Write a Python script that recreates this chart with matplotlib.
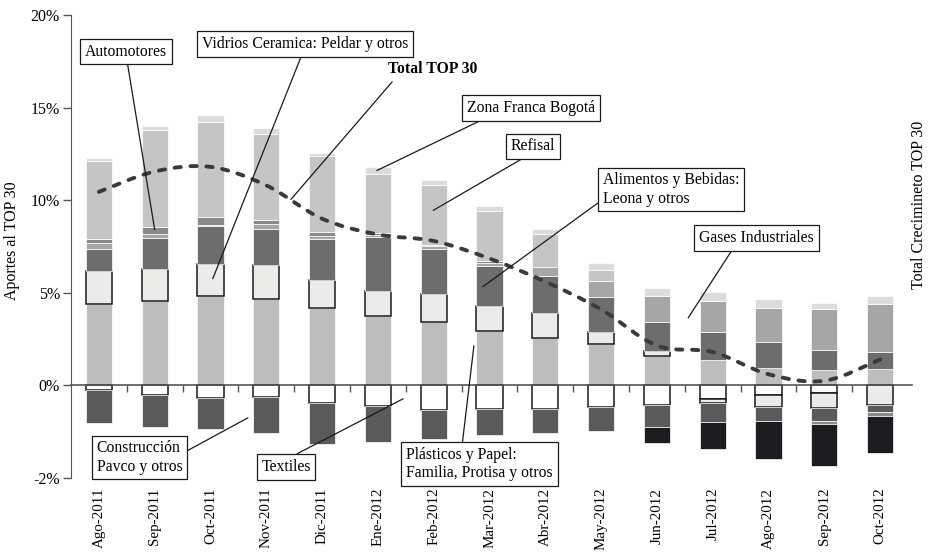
import numpy as np
import matplotlib
matplotlib.use("Agg")  # headless
import matplotlib.pyplot as plt
from matplotlib.path import Path
from matplotlib.patches import PathPatch

plt.rcParams["font.family"] = ["Liberation Serif", "DejaVu Serif"]

meses = ["Ago-2011", "Sep-2011", "Oct-2011", "Nov-2011", "Dic-2011", "Ene-2012",
         "Feb-2012", "Mar-2012", "Abr-2012", "May-2012", "Jun-2012", "Jul-2012",
         "Ago-2012", "Sep-2012", "Oct-2012"]

# aportes positivos (pp), de abajo hacia arriba
plasticos = [4.40, 4.57, 4.84, 4.66, 4.18, 3.76, 3.44, 2.95, 2.55, 2.23, 1.58, 1.38, 0.96, 0.84, 0.88]
vidrios = [1.76, 1.72, 1.72, 1.84, 1.53, 1.35, 1.49, 1.35, 1.36, 0.67, 0.29, 0, 0, 0, 0]
alimentos = [1.21, 1.68, 2.02, 1.95, 2.17, 2.89, 2.44, 2.13, 1.98, 1.85, 1.57, 1.52, 1.36, 1.08, 0.95]
gases = [0.30, 0.22, 0.08, 0.24, 0.21, 0.12, 0.15, 0.20, 0.49, 0.91, 1.37, 1.64, 1.86, 2.20, 2.56]
automotores = [0.24, 0.35, 0.42, 0.25, 0.18, 0.10, 0.08, 0.07, 0, 0, 0, 0, 0, 0, 0]
refisal = [4.20, 5.24, 5.15, 4.66, 4.10, 3.17, 3.20, 2.71, 1.80, 0.57, 0, 0, 0, 0, 0]
zona_franca = [0.19, 0.21, 0.36, 0.30, 0.20, 0.40, 0.27, 0.27, 0.27, 0.38, 0.43, 0.48, 0.49, 0.33, 0.45]

# aportes negativos (pp), desde 0 hacia abajo
textiles_neg = [-0.10, -0.20, -0.27, -0.26, -0.39, -0.44, -0.54, -0.50, -0.51, -0.47, -0.42, -0.30, -0.21, -0.17, 0]
vidrios_neg = [0, 0, 0, 0, 0, 0, 0, 0, 0, 0, 0, -0.09, -0.26, -0.32, -0.42]
construccion_neg = [-0.71, -0.70, -0.67, -0.76, -0.87, -0.79, -0.61, -0.57, -0.52, -0.52, -0.48, -0.41, -0.30, -0.27, -0.15]
automotores_neg = [0, 0, 0, 0, 0, 0, 0, 0, 0, 0, 0, 0, 0, -0.07, -0.10]
otros_neg = [0, 0, 0, 0, 0, 0, 0, 0, 0, 0, -0.34, -0.58, -0.81, -0.91, -0.79]

# crecimiento total TOP 30 (%)
total_top30 = [10.45, 11.55, 11.8, 10.8, 9.0, 8.15, 7.8, 6.85, 5.6, 4.1, 2.15, 1.8, 0.6, 0.25, 1.4]

GRIS_EDGE = dict(edgecolor="white", linewidth=0.5)
CAJA_EDGE = dict(edgecolor="#1a1a1a", linewidth=1.1)

pos_series = [
    (plasticos, "#bdbdbd", GRIS_EDGE),
    (vidrios, "#ebecea", CAJA_EDGE),
    (alimentos, "#6d6d6d", GRIS_EDGE),
    (gases, "#a6a6a6", GRIS_EDGE),
    (automotores, "#8a8a8a", GRIS_EDGE),
    (refisal, "#c5c5c5", GRIS_EDGE),
    (zona_franca, "#dcdcdc", GRIS_EDGE),
]
neg_series = [
    (textiles_neg, "white", CAJA_EDGE),
    (vidrios_neg, "#ebecea", CAJA_EDGE),
    (construccion_neg, "#5a5a5a", GRIS_EDGE),
    (automotores_neg, "#8a8a8a", GRIS_EDGE),
    (otros_neg, "#1c1c20", GRIS_EDGE),
]

# el eje negativo esta estirado en el original
NEG = 2.5


def _fwd(y):
    y = np.asarray(y, dtype=float)
    return np.where(y < 0, y * NEG, y)


def _inv(y):
    y = np.asarray(y, dtype=float)
    return np.where(y < 0, y / NEG, y)


fig = plt.figure(figsize=(9.29, 5.52), dpi=100)
ax = fig.add_axes([71 / 929, 1 - 478 / 552, (912 - 71) / 929, (478 - 15) / 552])
ax.set_yscale("function", functions=(_fwd, _inv))

x = np.arange(len(meses))
W = 0.47


def apilar(series):
    base = np.zeros(len(meses))
    for vals, color, edge in series:
        v = np.asarray(vals, dtype=float)
        m = v != 0
        ax.bar(x[m], v[m], bottom=base[m], width=W, color=color, zorder=1, **edge)
        base = base + v


apilar(pos_series)
apilar(neg_series)

# linea suavizada (Catmull-Rom -> bezier)
pts = np.column_stack([x, total_top30])
ext = np.vstack([pts[0], pts, pts[-1]])
verts, codes = [pts[0]], [Path.MOVETO]
for i in range(len(pts) - 1):
    p0, p1, p2, p3 = ext[i], ext[i + 1], ext[i + 2], ext[i + 3]
    verts += [p1 + (p2 - p0) / 6, p2 - (p3 - p1) / 6, p2]
    codes += [Path.CURVE4] * 3
ax.add_patch(PathPatch(Path(verts, codes), fill=False, edgecolor="#3a3a3a", lw=2.8,
                       linestyle=(0, (1.6, 2.5)), capstyle="round", zorder=4))

ax.set_xlim(-0.5, 14.57)
ax.set_ylim(-2, 20)
ax.set_yticks([-2, 0, 5, 10, 15, 20])
ax.yaxis.set_major_formatter(lambda v, p: f"{v:.0f}%")
ax.tick_params(axis="y", direction="out", length=6, width=1, color="#555555",
               labelsize=11.5, pad=2)

for s in ["top", "right"]:
    ax.spines[s].set_visible(False)
ax.spines["left"].set_color("#555555")
ax.spines["bottom"].set_position(("data", 0))
ax.spines["bottom"].set_color("#555555")
ax.spines["bottom"].set_linewidth(1.2)
ax.set_xticks(x[:-1] + 0.5, [""] * (len(meses) - 1))
ax.tick_params(axis="x", direction="out", length=5, width=1, color="#555555")

sec = ax.secondary_xaxis("bottom")
sec.set_xticks(x, meses, rotation=90)
sec.tick_params(length=0, pad=7, labelsize=10.8)
sec.spines["bottom"].set_visible(False)

H = 552


def nota(texto, xy, centro, relpos, caja=True, bold=False):
    ax.annotate(texto, xy=xy, xycoords="data",
                xytext=(centro[0], H - centro[1]), textcoords="figure pixels",
                ha="center", va="center", multialignment="left", fontsize=11.3,
                fontweight="bold" if bold else "normal", zorder=6,
                bbox=dict(boxstyle="square,pad=0.3", fc="white", ec="#1a1a1a", lw=0.9) if caja else None,
                arrowprops=dict(arrowstyle="-", color="#1a1a1a", lw=0.9, relpos=relpos,
                                shrinkA=0 if caja else 2, shrinkB=0))


nota("Automotores", (1, 8.4), (126, 51.5), (0.51, 0))
nota("Vidrios Ceramica: Peldar y otros", (2.04, 5.76), (305, 44), (0.49, 0))
nota("Total TOP 30", (3.44, 10.04), (433, 69), (0.09, 0), caja=False, bold=True)
nota("Zona Franca Bogotá", (4.98, 11.6), (531, 108), (0.18, 0))
nota("Refisal", (5.99, 9.45), (533, 146.5), (0.42, 0))
nota("Alimentos y Bebidas:\nLeona y otros", (6.88, 5.33), (671, 189.5), (0, 0.21))
nota("Gases Industriales", (10.56, 3.65), (756.5, 238), (0.31, 0))
nota("Plásticos y Papel:\nFamilia, Protisa y otros", (6.72, 2.14), (479.5, 464), (0.38, 1))
nota("Construcción\nPavco y otros", (2.67, -0.70), (139.5, 457.5), (1, 0.62))
nota("Textiles", (5.45, -0.29), (286, 467), (0.52, 1))

fig.text(12 / 929, 1 - 241 / H, "Aportes al TOP 30", rotation=90, ha="center", va="center", fontsize=11.5)
fig.text(919 / 929, 1 - 205 / H, "Total Crecimineto TOP 30", rotation=90, ha="center", va="center", fontsize=11.5)

fig.savefig("out.png", dpi=100)
